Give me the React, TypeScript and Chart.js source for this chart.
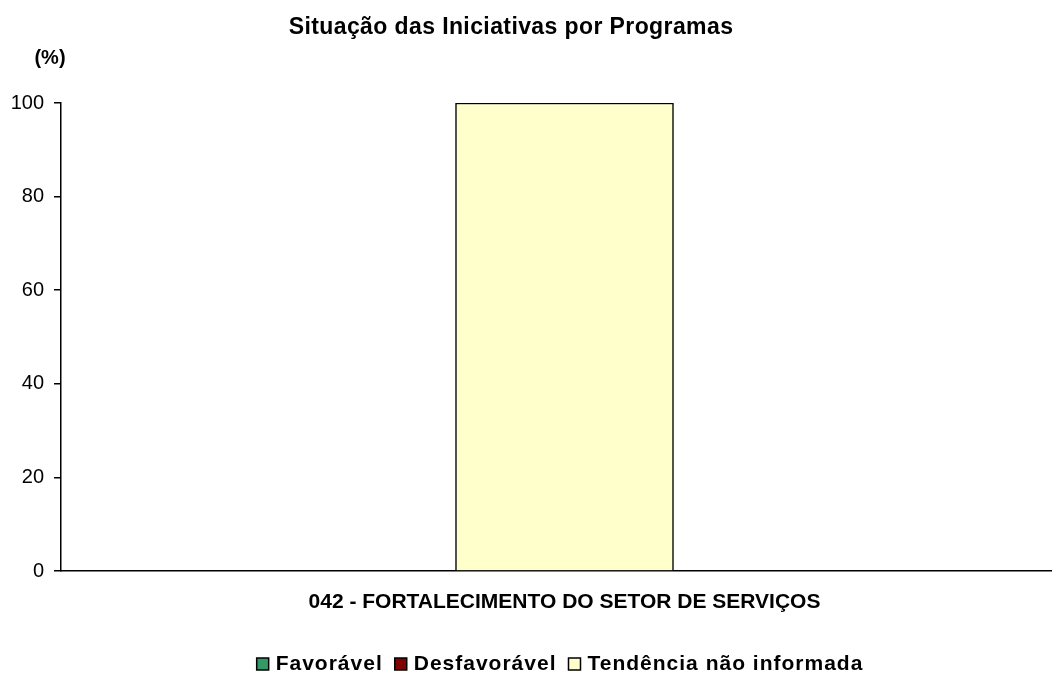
import React, { useEffect, useRef } from "react";
import { Chart, registerables } from "chart.js";

Chart.register(...registerables);

const categories = ["042 - FORTALECIMENTO DO SETOR DE SERVIÇOS"];
const favoravel = [0];
const desfavoravel = [0];
const tendenciaNaoInformada = [100];
const yTicks = [0, 20, 40, 60, 80, 100];
const chartTitle = "Situação das Iniciativas por Programas";
const unitLabel = "(%)";

const FONT = "Arial, 'Liberation Sans', sans-serif";

const textPlugin = {
  id: "texts",
  afterDraw(chart: any) {
    const ctx = chart.ctx;
    ctx.save();
    ctx.fillStyle = "#000";
    // title
    ctx.font = `bold 23px ${FONT}`;
    (ctx as any).letterSpacing = "0.4px";
    ctx.textAlign = "center";
    ctx.textBaseline = "alphabetic";
    ctx.fillText(chartTitle, 511, 34);
    // unit label
    (ctx as any).letterSpacing = "0px";
    ctx.font = `bold 20px ${FONT}`;
    ctx.textBaseline = "middle";
    ctx.fillText(unitLabel, 50, 58);
    // legend
    ctx.font = `bold 21px ${FONT}`;
    (ctx as any).letterSpacing = "1px";
    const box = 12;
    const gapText = 7;
    const gapItem = 12;
    const items = chart.data.datasets.map((d: any) => ({
      label: d.label,
      fill: d.backgroundColor,
      w: ctx.measureText(d.label).width,
    }));
    const total = items.reduce((s: number, it: any) => s + box + gapText + it.w, 0) + gapItem * (items.length - 1);
    let x = 560 - total / 2;
    const cy = 664;
    ctx.textAlign = "left";
    items.forEach((it: any) => {
      ctx.fillStyle = it.fill;
      ctx.fillRect(x, cy - box / 2, box, box);
      ctx.strokeStyle = "#000";
      ctx.lineWidth = 1.5;
      ctx.strokeRect(x, cy - box / 2, box, box);
      ctx.fillStyle = "#000";
      ctx.fillText(it.label, x + box + gapText, cy);
      x += box + gapText + it.w + gapItem;
    });
    ctx.restore();
  },
};

export default function App() {
  const ref = useRef<HTMLCanvasElement | null>(null);
  useEffect(() => {
    if (!ref.current) return;
    const chart = new Chart(ref.current, {
      type: "bar",
      data: {
        labels: categories,
        datasets: [
          { label: "Favorável", data: favoravel, backgroundColor: "#339966", borderColor: "#000", borderWidth: 1.5 },
          { label: "Desfavorável", data: desfavoravel, backgroundColor: "#800000", borderColor: "#000", borderWidth: 1.5 },
          { label: "Tendência não informada", data: tendenciaNaoInformada, backgroundColor: "#FFFFCC", borderColor: "#000", borderWidth: 1.5 },
        ],
      },
      options: {
        animation: false,
        responsive: false,
        maintainAspectRatio: false,
        layout: { padding: { left: 0, right: 0, top: 103, bottom: 52 } },
        datasets: { bar: { barThickness: 218 } } as any,
        scales: {
          x: {
            stacked: true,
            afterFit(scale: any) {
              scale.height = 52;
            },
            grid: { display: false, drawTicks: false },
            border: { display: true, color: "#000", width: 1.5 },
            ticks: {
              color: "#000",
              font: { family: FONT, size: 21, weight: "bold" },
              padding: 19,
            },
          },
          y: {
            stacked: true,
            min: 0,
            max: 100,
            afterBuildTicks(scale: any) {
              scale.ticks = yTicks.map((v) => ({ value: v }));
            },
            afterFit(scale: any) {
              scale.width = 61;
            },
            grid: { display: true, drawOnChartArea: false, drawTicks: true, tickLength: 7, color: "#000", lineWidth: 1.5 },
            border: { display: true, color: "#000", width: 1.5 },
            ticks: {
              color: "#000",
              font: { family: FONT, size: 20 },
              padding: 10,
            },
          },
        },
        plugins: {
          title: { display: false },
          legend: { display: false },
          tooltip: { enabled: false },
        },
      },
      plugins: [textPlugin],
    });
    return () => chart.destroy();
  }, []);
  return (
    <div style={{ position: "absolute", left: 0, top: 0, width: 1052, height: 675, overflow: "hidden", background: "#fff" }}>
      <canvas ref={ref} width={1068} height={675} style={{ display: "block" }} />
    </div>
  );
}
